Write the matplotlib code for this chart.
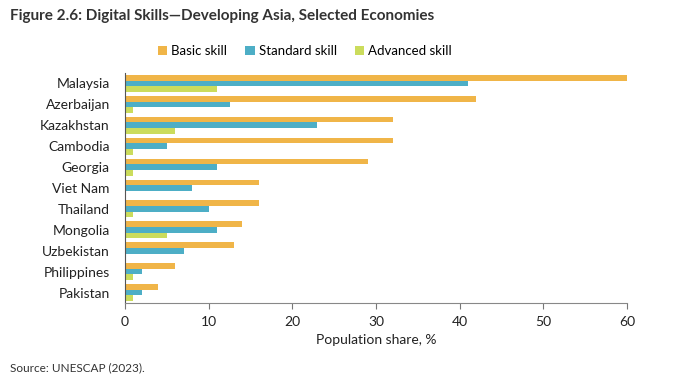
import matplotlib
matplotlib.use("Agg")
import matplotlib.pyplot as plt
import numpy as np

countries = ["Malaysia", "Azerbaijan", "Kazakhstan", "Cambodia", "Georgia", "Viet Nam",
             "Thailand", "Mongolia", "Uzbekistan", "Philippines", "Pakistan"]
basic = [60, 42, 32, 32, 29, 16, 16, 14, 13, 6, 4]
standard = [41, 12.5, 23, 5, 11, 8, 10, 11, 7, 2, 2]
advanced = [11, 1, 6, 1, 1, 0, 1, 5, 0, 1, 1]
series_names = ["Basic skill", "Standard skill", "Advanced skill"]
colors = ["#F0B548", "#4DAEC6", "#CBDC5C"]
xticks = [0, 10, 20, 30, 40, 50, 60]

plt.rcParams['font.family'] = ['Lato', 'DejaVu Sans']

fig = plt.figure(figsize=(6.8, 3.81), dpi=100)
ax = fig.add_axes([125/680, 1 - 303/381, (627-125)/680, (303-73)/381])

n = len(countries)
y = np.arange(n)
h = 0.27
for i, (vals, c, name) in enumerate(zip([basic, standard, advanced], colors, series_names)):
    ax.barh(y + (i - 1) * h, vals, height=h, color=c, label=name)

ax.set_ylim(n - 0.5, -0.5)
ax.set_xlim(0, 60)
ax.set_yticks(y)
ax.set_yticklabels(countries, fontsize=10, color="#222222")
ax.set_xticks(xticks)
ax.set_xticklabels([str(t) for t in xticks], fontsize=10, color="#222222")
ax.tick_params(axis='y', length=0, pad=11)
ax.tick_params(axis='x', length=4, direction='out', color="#777777", pad=5)
for s in ["top", "right"]:
    ax.spines[s].set_visible(False)
ax.spines["left"].set_color("#555555")
ax.spines["bottom"].set_color("#888888")
ax.set_xlabel("Population share, %", fontsize=10, color="#222222", labelpad=5)

fig.text(10/680, 1 - 16/381, "Figure 2.6: Digital Skills\u2014Developing Asia, Selected Economies",
         fontsize=11, fontweight='bold', color="#333333", va='center', ha='left')
fig.text(10/680, 1 - 368/381, "Source: UNESCAP (2023).", fontsize=8.5, color="#333333",
         va='center', ha='left')

ax.legend(loc='center', bbox_to_anchor=(305/680, (381 - 51) / 381), bbox_transform=fig.transFigure,
          ncol=3, frameon=False, handlelength=0.7, handleheight=0.7,
          handletextpad=0.3, columnspacing=1.4, fontsize=9.5)

fig.savefig("out.png", dpi=100)
